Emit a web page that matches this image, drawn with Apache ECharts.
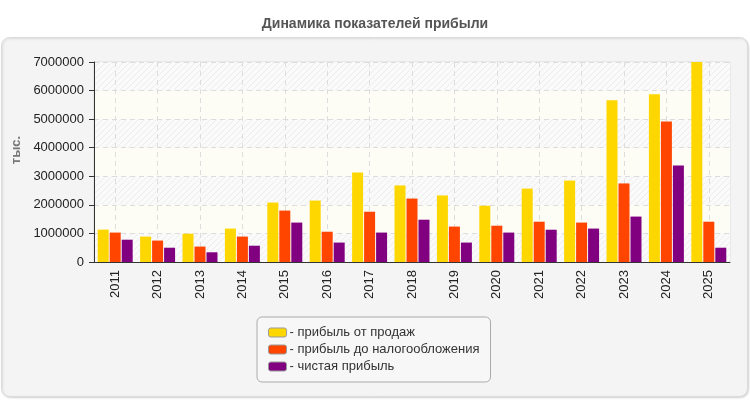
<!doctype html>
<html lang="ru">
<head>
<meta charset="UTF-8"/>
<title>Динамика показателей прибыли</title>
<script src="https://cdn.jsdelivr.net/npm/echarts@6/dist/echarts.min.js"></script>
<style>
	html, body { margin: 0; padding: 0; background: #fff; }
	#main { width: 750px; height: 400px; }
</style>
</head>
<body>
	<div id="main"></div>
	<script type="text/javascript">
		// данные по годам
		var years = ['2011', '2012', '2013', '2014', '2015', '2016', '2017', '2018',
				'2019', '2020', '2021', '2022', '2023', '2024', '2025'];
		var salesProfit = [1134000, 890000, 990000, 1170000, 2080000, 2150000, 3130000, 2680000,
				2330000, 1970000, 2570000, 2850000, 5660000, 5870000, 7000000];
		var pretaxProfit = [1030000, 750000, 540000, 890000, 1800000, 1060000, 1760000, 2220000,
				1240000, 1270000, 1410000, 1380000, 2750000, 4920000, 1410000];
		var netProfit = [780000, 500000, 340000, 570000, 1380000, 680000, 1030000, 1480000,
				680000, 1030000, 1130000, 1170000, 1590000, 3380000, 500000];
		var seriesNames = ['прибыль от продаж', 'прибыль до налогообложения', 'чистая прибыль'];

		// штриховка для полос фона
		function hatch() {
			var c = document.createElement('canvas');
			c.width = 6; c.height = 6;
			var ctx = c.getContext('2d');
			ctx.fillStyle = '#fafafa';
			ctx.fillRect(0, 0, 6, 6);
			ctx.strokeStyle = '#ededed';
			ctx.lineWidth = 1;
			ctx.beginPath();
			ctx.moveTo(0, 6); ctx.lineTo(6, 0);
			ctx.moveTo(-3, 3); ctx.lineTo(3, -3);
			ctx.moveTo(3, 9); ctx.lineTo(9, 3);
			ctx.stroke();
			return { image: c, repeat: 'repeat' };
		}

		var font = '"Liberation Sans", Arial, sans-serif';
		var myChart = echarts.init(document.getElementById('main'));
		var option = {
			textStyle: { fontFamily: font },
			title: {
				text: 'Динамика показателей прибыли',
				left: 'center',
				top: 12,
				textStyle: { fontSize: 14, fontWeight: 'bold', color: '#555', fontFamily: font }
			},
			graphic: [{
				type: 'rect',
				z: -10,
				shape: { x: 1.5, y: 37.5, width: 746, height: 359, r: 8 },
				style: {
					fill: '#f4f4f4', stroke: '#dcdcdc', lineWidth: 1,
					shadowBlur: 2, shadowOffsetX: 1, shadowOffsetY: 1, shadowColor: 'rgba(0,0,0,0.15)'
				}
			}],
			legend: {
				orient: 'vertical',
				left: 257,
				top: 317,
				width: 234,
				padding: [9, 11, 9, 11],
				itemGap: 4,
				itemWidth: 18,
				itemHeight: 9,
				icon: 'roundRect',
				backgroundColor: '#f7f7f7',
				borderColor: '#aaa',
				borderWidth: 1,
				borderRadius: 5,
				itemStyle: { borderColor: '#999', borderWidth: 1 },
				formatter: function (name) { return '- ' + name; },
				textStyle: { fontSize: 13, color: '#333', fontFamily: font, padding: [0, 0, 0, -2] },
				data: seriesNames
			},
			grid: {
				left: 94,
				right: 20,
				top: 62,
				bottom: 138,
				show: true,
				borderColor: '#ddd',
				borderWidth: 1
			},
			xAxis: {
				type: 'category',
				data: years,
				axisLine: { lineStyle: { color: '#333' } },
				axisTick: { alignWithLabel: true, length: 6, lineStyle: { color: '#333' } },
				axisLabel: { rotate: 90, fontSize: 13, color: '#222', margin: 8 },
				splitLine: { show: true, alignWithLabel: true, lineStyle: { color: '#ddd', type: [5, 4] } }
			},
			yAxis: {
				type: 'value',
				min: 0,
				max: 7000000,
				interval: 1000000,
				name: 'тыс.',
				nameLocation: 'middle',
				nameGap: 70,
				nameRotate: 90,
				nameTextStyle: { fontSize: 13, fontWeight: 'bold', color: '#777', padding: [0, 0, 0, 24] },
				axisLine: { show: true, lineStyle: { color: '#333' } },
				axisTick: { show: true, length: 5, lineStyle: { color: '#333' } },
				axisLabel: {
					fontSize: 13, color: '#222', margin: 10,
					formatter: function (v) { return String(v); }
				},
				splitLine: { lineStyle: { color: '#ddd', type: [5, 4] } },
				splitArea: { show: true, areaStyle: { color: [hatch(), '#fdfdf5'] } }
			},
			series: [{
				name: seriesNames[0],
				type: 'bar',
				barWidth: 11,
				barGap: '9%',
				itemStyle: { color: '#ffd700' },
				data: salesProfit
			}, {
				name: seriesNames[1],
				type: 'bar',
				barWidth: 11,
				barGap: '9%',
				itemStyle: { color: '#ff4500' },
				data: pretaxProfit
			}, {
				name: seriesNames[2],
				type: 'bar',
				barWidth: 11,
				barGap: '9%',
				itemStyle: { color: '#800080' },
				data: netProfit
			}]
		};
		myChart.setOption(option);
	</script>
</body>
</html>
